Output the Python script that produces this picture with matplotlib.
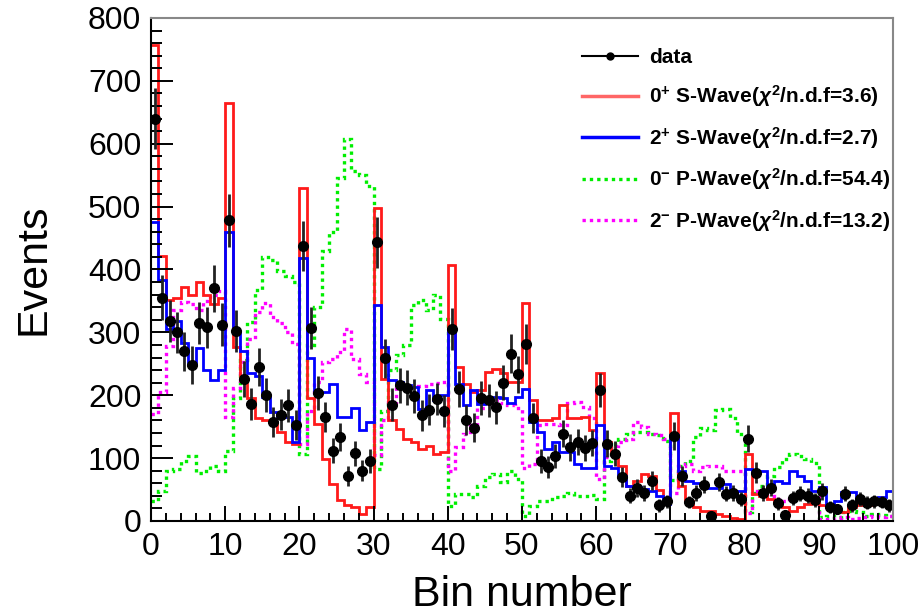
"""
Bin-by-bin comparison of data with spin-parity hypotheses
"""
import numpy as np
import matplotlib.pyplot as plt
from matplotlib.lines import Line2D

plt.rcParams['font.family'] = ['Liberation Sans', 'DejaVu Sans']
plt.rcParams['mathtext.fontset'] = 'custom'
plt.rcParams['mathtext.rm'] = 'Liberation Sans:bold'
plt.rcParams['mathtext.it'] = 'Liberation Sans:italic:bold'
plt.rcParams['mathtext.bf'] = 'Liberation Sans:bold'

NBINS = 100

data = [640, 355, 318, 300, 270, 248, 315, 308, 370, 312,
        478, 302, 226, 186, 245, 201, 158, 169, 184, 153,
        437, 307, 204, 165, 112, 134, 71, 108, 80, 96,
        443, 259, 185, 216, 212, 199, 168, 177, 194, 175,
        305, 210, 160, 148, 196, 192, 181, 220, 266, 233,
        281, 164, 95, 86, 104, 139, 117, 126, 116, 124,
        208, 123, 107, 70, 40, 52, 45, 64, 25, 31,
        135, 71, 30, 45, 58, 8, 62, 43, 45, 35,
        131, 77, 45, 53, 28, 10, 36, 43, 40, 33,
        47, 22, 19, 43, 25, 35, 29, 31, 30, 25]

data_err = [48, 36, 34, 33, 31, 30, 34, 33, 37, 34,
            42, 33, 29, 26, 30, 27, 24, 25, 26, 24,
            40, 33, 27, 24, 20, 22, 16, 20, 17, 19,
            40, 31, 26, 28, 28, 27, 25, 25, 26, 25,
            33, 28, 24, 23, 27, 26, 26, 28, 31, 29,
            32, 24, 19, 18, 19, 22, 21, 21, 20, 21,
            27, 21, 20, 16, 12, 14, 13, 15, 10, 11,
            22, 16, 10, 13, 14, 5, 15, 12, 13, 11,
            22, 17, 13, 14, 10, 6, 11, 12, 12, 11,
            13, 9, 8, 12, 10, 11, 10, 11, 10, 10]

s_wave_0p = [757, 421, 352, 355, 372, 360, 380, 360, 345, 355,
             665, 276, 224, 195, 163, 161, 157, 141, 125, 123,
             529, 195, 155, 99, 59, 33, 25, 22, 11, 22,
             498, 226, 160, 147, 131, 126, 115, 120, 107, 110,
             407, 245, 218, 205, 208, 237, 241, 235, 221, 221,
             346, 192, 160, 160, 163, 185, 163, 163, 165, 144,
             235, 125, 107, 88, 56, 64, 75, 72, 50, 35,
             171, 56, 32, 22, 16, 16, 11, 8, 5, 3,
             107, 43, 40, 35, 30, 22, 16, 22, 27, 28,
             25, 22, 16, 14, 22, 25, 26, 27, 30, 30]

s_wave_2p = [475, 383, 305, 318, 283, 250, 275, 240, 225, 240,
             460, 300, 270, 235, 230, 197, 174, 166, 166, 125,
             418, 260, 205, 205, 218, 166, 166, 179, 144, 157,
             343, 277, 224, 221, 216, 213, 178, 208, 192, 200,
             301, 218, 184, 208, 186, 189, 197, 195, 187, 197,
             210, 157, 141, 115, 125, 109, 109, 91, 85, 85,
             153, 88, 85, 72, 56, 54, 51, 48, 40, 27,
             136, 80, 64, 61, 59, 53, 53, 59, 40, 48,
             83, 80, 80, 56, 64, 61, 80, 72, 64, 48,
             54, 22, 32, 46, 46, 32, 30, 35, 38, 48]

p_wave_0m = [32, 48, 80, 83, 95, 104, 77, 80, 88, 80,
             112, 195, 256, 317, 368, 420, 415, 398, 390, 380,
             107, 280, 340, 430, 460, 545, 607, 556, 551, 532,
             82, 175, 240, 264, 280, 343, 351, 335, 359, 322,
             24, 43, 43, 38, 55, 70, 75, 62, 80, 67,
             8, 24, 31, 32, 38, 40, 45, 40, 39, 41,
             35, 95, 123, 130, 138, 142, 141, 138, 136, 128,
             65, 88, 95, 133, 148, 144, 176, 178, 163, 139,
             14, 45, 56, 72, 86, 99, 107, 104, 99, 92,
             6, 8, 6, 14, 16, 14, 8, 11, 10, 8]

p_wave_2m = [170, 205, 279, 335, 348, 345, 335, 350, 360, 365,
             166, 212, 253, 290, 333, 346, 325, 315, 301, 282,
             123, 175, 221, 253, 258, 269, 306, 258, 234, 221,
             105, 160, 190, 215, 216, 213, 214, 218, 220, 221,
             80, 117, 138, 152, 180, 187, 192, 187, 184, 179,
             85, 91, 152, 155, 155, 152, 187, 189, 181, 163,
             67, 101, 120, 125, 131, 157, 149, 138, 136, 131,
             45, 88, 91, 80, 86, 88, 88, 80, 80, 80,
             12, 48, 45, 40, 35, 32, 38, 40, 42, 38,
             3, 3, 4, 6, 3, 4, 6, 8, 7, 8]

labels = ['data',
          r'0$^{+}$ S-Wave($\chi^{2}$/n.d.f=3.6)',
          r'2$^{+}$ S-Wave($\chi^{2}$/n.d.f=2.7)',
          r'0$^{-}$ P-Wave($\chi^{2}$/n.d.f=54.4)',
          r'2$^{-}$ P-Wave($\chi^{2}$/n.d.f=13.2)']


def main():
    edges = np.arange(NBINS + 1)
    centers = edges[:-1] + 0.5

    fig = plt.figure(figsize=(9.22, 6.14), dpi=100)
    ax = fig.add_axes([0.1638, 0.1515, 0.8047, 0.8192])

    ax.stairs(p_wave_0m, edges, baseline=None, color='#00ee00', lw=2.4, ls=(0, (1, 1.2)))
    ax.stairs(p_wave_2m, edges, baseline=None, color='#ff00ff', lw=2.4, ls=(0, (1, 1.2)))
    ax.stairs(s_wave_0p, edges, baseline=None, color='#ff1a1a', lw=2)
    ax.stairs(s_wave_2p, edges, baseline=None, color='#0000ff', lw=2)
    ax.errorbar(centers, data, yerr=data_err, fmt='o', color='black', ms=7,
                elinewidth=2, ecolor='#222222', capsize=0)

    ax.set_xlim(0, 100)
    ax.set_ylim(0, 800)
    ax.set_xticks(np.arange(0, 101, 10))
    ax.set_xticks(np.arange(0, 101, 2), minor=True)
    ax.set_yticks(np.arange(0, 801, 100))
    ax.set_yticks(np.arange(0, 801, 20), minor=True)
    ax.tick_params(axis='both', which='both', direction='in', width=1.4,
                   top=False, right=False, labelsize=23)
    ax.tick_params(axis='y', which='major', length=16, pad=7)
    ax.tick_params(axis='y', which='minor', length=8)
    ax.tick_params(axis='x', which='major', length=11, pad=8)
    ax.tick_params(axis='x', which='minor', length=5.5)
    for side in ['left', 'bottom']:
        ax.spines[side].set_linewidth(1.5)
    for side in ['top', 'right']:
        ax.spines[side].set_linewidth(1.5)
        ax.spines[side].set_color('#888888')

    ax.set_xlabel('Bin number', fontsize=31)
    ax.set_ylabel('Events', fontsize=31)
    ax.xaxis.set_label_coords(0.5, -0.107)
    ax.yaxis.set_label_coords(-0.132, 0.5)

    handles = [
        Line2D([], [], color='black', lw=1.5, marker='o', ms=5),
        Line2D([], [], color='#ff6666', lw=2.5),
        Line2D([], [], color='#0000ff', lw=2.5),
        Line2D([], [], color='#00ee00', lw=2.4, ls=(0, (1, 1.2))),
        Line2D([], [], color='#ff00ff', lw=2.4, ls=(0, (1, 1.2))),
    ]
    fig.legend(handles, labels, loc='upper left', bbox_to_anchor=(0.62, 0.938),
               frameon=False, borderpad=0, handlelength=2.7, handletextpad=0.5,
               labelspacing=0.75, prop={'size': 15, 'weight': 'bold'})

    fig.savefig('out.png', dpi=100)


if __name__ == '__main__':
    main()
